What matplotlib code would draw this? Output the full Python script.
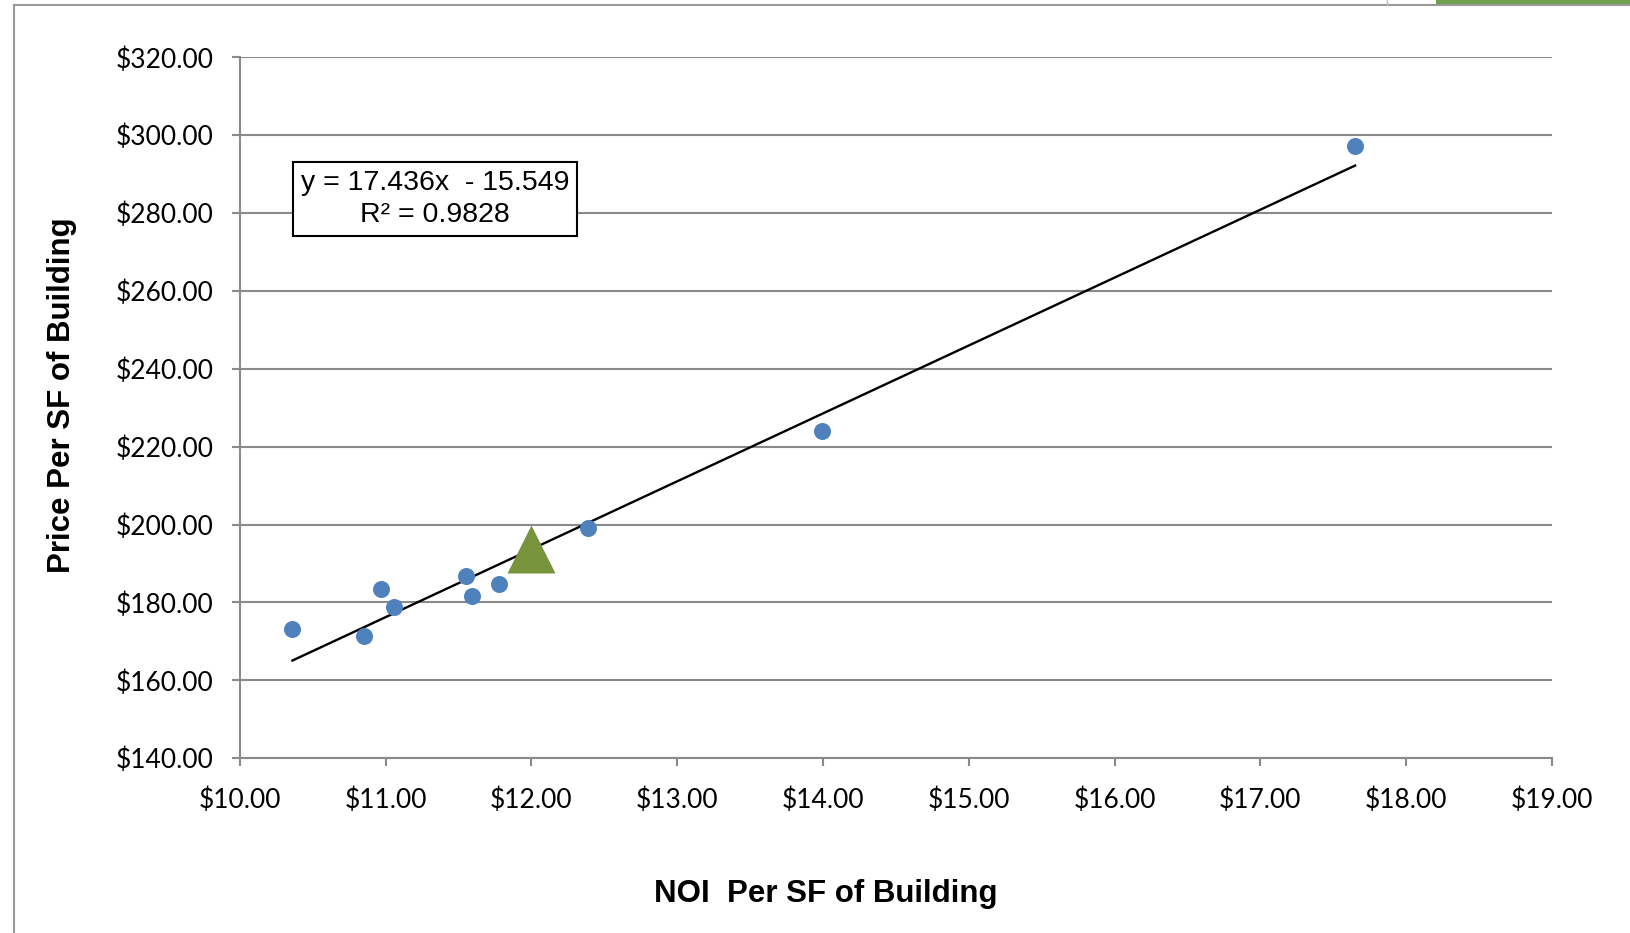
import numpy as np
import matplotlib.pyplot as plt
from matplotlib.lines import Line2D
from matplotlib.patches import Rectangle
from matplotlib.ticker import FuncFormatter

# comparable sales: NOI per SF vs price per SF
noi_psf = [10.36, 10.85, 10.97, 11.06, 11.55, 11.59, 11.78, 12.39, 13.99, 17.65]
price_psf = [173.1, 171.4, 183.5, 178.9, 186.9, 181.7, 184.7, 199.1, 224.1, 297.2]

# trendline reported on the chart
slope = 17.436
intercept = -15.549
r_squared = 0.9828

# subject property
subject_noi = 12.00
subject_price = slope * subject_noi + intercept

x_ticks = np.arange(10, 20, 1)
y_ticks = np.arange(140, 340, 20)

grid_col = '#8a8a8a'
tick_font = 'Lato'
title_font = 'Liberation Sans'

fig = plt.figure(figsize=(16.3, 9.33), dpi=100)
ax = fig.add_axes([0.1472, 0.1873, 0.8049, 0.7513])

ax.set_xlim(10, 19)
ax.set_ylim(140, 320)
ax.set_xticks(x_ticks)
ax.set_yticks(y_ticks)
money = FuncFormatter(lambda v, p: '${:,.2f}'.format(v))
ax.xaxis.set_major_formatter(money)
ax.yaxis.set_major_formatter(money)

ax.grid(axis='y', color=grid_col, lw=1.5, zorder=0)
for side in ['top', 'right']:
    ax.spines[side].set_visible(False)
for side in ['left', 'bottom']:
    ax.spines[side].set_color(grid_col)
    ax.spines[side].set_linewidth(1.5)
ax.tick_params(direction='out', length=6, width=1.5, color=grid_col,
               labelsize=19, labelcolor='black')
ax.tick_params(axis='y', pad=13)
ax.tick_params(axis='x', pad=15)
for lab in ax.get_xticklabels() + ax.get_yticklabels():
    lab.set_fontfamily(tick_font)

# trendline over the range of the comparables
xs = np.array([min(noi_psf), max(noi_psf)])
ax.plot(xs, slope * xs + intercept, color='black', lw=1.7, zorder=3)

ax.scatter(noi_psf, price_psf, s=150, color='#4f81bd', zorder=4, linewidths=0)
ax.plot([subject_noi], [subject_price], marker='^', ms=35, color='#77933c',
        mec='none', ls='none', zorder=5)

ax.text(0.1486, 0.798, 'y = {:.3f}x  - {:.3f}\nR² = {:.4f}'.format(slope, -intercept, r_squared),
        transform=ax.transAxes, ha='center', va='center', fontsize=20.5,
        fontfamily=title_font, linespacing=1.3, zorder=6,
        bbox=dict(boxstyle='square,pad=0.28', fc='white', ec='black', lw=1.5))

ax.set_xlabel('NOI  Per SF of Building', fontsize=22.5, fontweight='bold',
              fontfamily=title_font)
ax.xaxis.set_label_coords(0.4466, -0.172)
ax.set_ylabel('Price Per SF of Building', fontsize=22.5, fontweight='bold',
              fontfamily=title_font)
ax.yaxis.set_label_coords(-0.124, 0.518)

# frame around the chart region
fig.add_artist(Line2D([13.7 / 1630, 13.7 / 1630], [0, 1 - 5 / 933],
                      transform=fig.transFigure, color='#9a9a9a', lw=1.5))
fig.add_artist(Line2D([13.7 / 1630, 1], [1 - 5 / 933, 1 - 5 / 933],
                      transform=fig.transFigure, color='#9a9a9a', lw=1.5))
fig.add_artist(Line2D([1387 / 1630, 1387 / 1630], [1 - 5 / 933, 1],
                      transform=fig.transFigure, color='#c0c0c0', lw=1))
fig.add_artist(Rectangle((1436 / 1630, 1 - 4.5 / 933), 1, 4.5 / 933,
                         transform=fig.transFigure, color='#70a04c', lw=0))

fig.savefig('out.png', dpi=100)
